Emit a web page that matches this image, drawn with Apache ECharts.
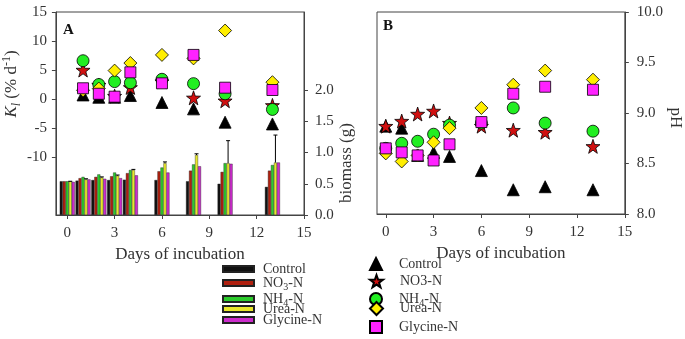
<!DOCTYPE html>
<html><head><meta charset="utf-8">
<script src="https://cdn.jsdelivr.net/npm/echarts@6/dist/echarts.min.js"></script>
<style>html,body{margin:0;padding:0;background:#fff}#c{width:685px;height:339px}</style>
</head><body><div id="c"></div>
<script>
// ---------- data ----------
const categories = ['Control', 'NO3-N', 'NH4-N', 'Urea-N', 'Glycine-N'];
const biomassDays = [0, 1, 2, 3, 4, 6, 8, 10, 13];
const biomassControl = [0.54, 0.55, 0.56, 0.56, 0.565, 0.56, 0.54, 0.50, 0.45];
const biomassNO3 = [0.54, 0.59, 0.61, 0.62, 0.67, 0.70, 0.71, 0.69, 0.71];
const biomassNH4 = [0.54, 0.61, 0.65, 0.68, 0.72, 0.76, 0.81, 0.83, 0.80];
const biomassUrea = [0.54, 0.57, 0.60, 0.63, 0.72, 0.83, 0.96, 0.83, 0.84];
const biomassGlycine = [0.53, 0.57, 0.58, 0.59, 0.635, 0.68, 0.78, 0.82, 0.84];
const biomassUreaErr = [0, 0.01, 0.01, 0.01, 0.01, 0.02, 0.02, 0.36, 0.44];

const klDays = [1, 2, 3, 4, 6, 8, 10, 13];
const klControl = [0.7, 0.3, 0.3, 0.6, -0.6, -1.7, -4.0, -4.3];
const klNO3 = [5.0, 2.4, 0.5, 2.0, 3.0, 0.2, -0.3, -1.1];
const klNH4 = [6.6, 2.5, 3.0, 2.8, 3.4, 2.65, 0.9, -1.8];
const klUrea = [1.5, 1.8, 4.9, 6.2, 7.6, 7.0, 11.8, 2.9];
const klGlycine = [1.85, 0.9, 0.4, 4.6, 2.7, 7.6, 1.95, 1.55];

const phDays = [0, 1, 2, 3, 4, 6, 8, 10, 13];
const phControl = [8.87, 8.85, 8.58, 8.61, 8.57, 8.43, 8.24, 8.27, 8.24];
const phNO3 = [8.87, 8.92, 8.99, 9.02, 8.90, 8.87, 8.83, 8.81, 8.67];
const phNH4 = [8.65, 8.70, 8.72, 8.79, 8.88, 8.90, 9.05, 8.90, 8.82];
const phUrea = [8.60, 8.52, 8.58, 8.71, 8.85, 9.05, 9.28, 9.42, 9.33];
const phGlycine = [8.65, 8.61, 8.58, 8.53, 8.69, 8.91, 9.19, 9.26, 9.23];

const xTicks = [0, 3, 6, 9, 12, 15];
const klTicks = [-10, -5, 0, 5, 10, 15];
const biomassTicks = [0, 0.5, 1.0, 1.5, 2.0];
const phTicks = [8.0, 8.5, 9.0, 9.5, 10.0];

// ---------- styles ----------
const SERIF = '"Liberation Serif","DejaVu Serif",serif';
const AX = '#444';
const TXT = '#333';
const barColors = ['#111111', '#b0200f', '#2ccc2c', '#e8e82a', '#cc2ccc'];
const STAR = 'path://M0,-10 L2.35,-3.24 L9.51,-3.09 L3.8,1.24 L5.88,8.09 L0,4 L-5.88,8.09 L-3.8,1.24 L-9.51,-3.09 L-2.35,-3.24 Z';
const markers = [
  {symbol: 'triangle', size: 12, color: '#000000'},
  {symbol: STAR, size: 14, color: '#d01010'},
  {symbol: 'circle', size: 12, color: '#22ee22'},
  {symbol: 'diamond', size: 13, color: '#ffee00'},
  {symbol: 'rect', size: 11, color: '#ff22ff'}
];
const biomassSets = [biomassControl, biomassNO3, biomassNH4, biomassUrea, biomassGlycine];
const klSets = [klControl, klNO3, klNH4, klUrea, klGlycine];
const phSets = [phControl, phNO3, phNH4, phUrea, phGlycine];

const rich = {
  n: {fontFamily: SERIF, fontSize: 14, color: TXT, lineHeight: 18},
  s: {fontFamily: SERIF, fontSize: 10, color: TXT, lineHeight: 10, verticalAlign: 'bottom'}
};
const barLabel = {'Control': '{n|Control}', 'NO3-N': '{n|NO}{s|3}{n|-N}', 'NH4-N': '{n|NH}{s|4}{n|-N}', 'Urea-N': '{n|Urea-N}', 'Glycine-N': '{n|Glycine-N}'};
const dotLabel = {'Control': '{n|Control}', 'NO3-N': '{n|NO3-N}', 'NH4-N': '{n|NH}{s|4}{n|-N}', 'Urea-N': '{n|Urea-N}', 'Glycine-N': '{n|Glycine-N}'};

function axisCommon(extra) {
  return Object.assign({
    type: 'value', splitLine: {show: false},
    axisLine: {show: true, onZero: false, lineStyle: {color: AX}},
    axisTick: {show: true, length: 4, lineStyle: {color: AX}},
    axisLabel: {fontFamily: SERIF, fontSize: 15, color: TXT, margin: 11},
    nameTextStyle: {fontFamily: SERIF, fontSize: 17, color: TXT}
  }, extra);
}

const series = [];
categories.forEach((c, k) => {
  series.push({
    name: c + ' bar', type: 'bar', xAxisIndex: 0, yAxisIndex: 1,
    barWidth: 3, barGap: '0%',
    itemStyle: {color: barColors[k], borderColor: '#222', borderWidth: 0.4},
    data: biomassDays.map((d, i) => [d, biomassSets[k][i]])
  });
});
series.push({
  name: 'urea err', type: 'custom', xAxisIndex: 0, yAxisIndex: 1, z: 5,
  renderItem: function (params, api) {
    const base = api.coord([api.value(0), api.value(1)]);
    const top = api.coord([api.value(0), api.value(1) + api.value(2)]);
    const cx = base[0] + 3;
    return {type: 'group', children: [
      {type: 'line', shape: {x1: cx, y1: base[1], x2: cx, y2: top[1]}, style: {stroke: '#000', lineWidth: 1}},
      {type: 'line', shape: {x1: cx - 2, y1: top[1], x2: cx + 2, y2: top[1]}, style: {stroke: '#000', lineWidth: 1}}
    ]};
  },
  data: biomassDays.map((d, i) => [d, biomassUrea[i], biomassUreaErr[i]])
});
categories.forEach((c, k) => {
  const m = markers[k];
  const common = {
    name: c, type: 'scatter', symbol: m.symbol, symbolSize: m.size, z: 10 + k,
    itemStyle: {color: m.color, borderColor: '#000', borderWidth: 0.8, opacity: 1}
  };
  series.push(Object.assign({}, common, {xAxisIndex: 0, yAxisIndex: 0, data: klDays.map((d, i) => [d, klSets[k][i]])}));
  series.push(Object.assign({}, common, {xAxisIndex: 1, yAxisIndex: 2, data: phDays.map((d, i) => [d, phSets[k][i]])}));
});

const legends = [];
const barLegendCenters = [271, 285, 301, 311, 322];
const dotLegendCenters = [266, 283, 301, 310, 329];
categories.forEach((c, k) => {
  legends.push({
    data: [c + ' bar'], left: 222, top: barLegendCenters[k] - 9, padding: 0,
    icon: 'rect', itemWidth: 31, itemHeight: 6, selectedMode: false,
    formatter: (n) => barLabel[n.replace(' bar', '')],
    textStyle: {padding: [0, 0, 0, 4], rich: rich}
  });
  legends.push({
    data: [c], left: 369, top: dotLegendCenters[k] - 9, padding: 0,
    itemWidth: markers[k].size > 12 ? 13 : 12, itemHeight: markers[k].size > 12 ? 13 : 12, selectedMode: false,
    formatter: (n) => dotLabel[n],
    textStyle: {padding: [0, 0, 0, 12], rich: rich}
  });
});

const option = {
  animation: false,
  backgroundColor: '#fff',
  title: [
    {text: 'A', left: 63, top: 23, padding: 0, textStyle: {fontFamily: SERIF, fontWeight: 'bold', fontSize: 15, color: '#111'}},
    {text: 'B', left: 383, top: 19, padding: 0, textStyle: {fontFamily: SERIF, fontWeight: 'bold', fontSize: 15, color: '#111'}}
  ],
  legend: legends,
  grid: [
    {left: 54, top: 12, width: 250, height: 203, show: true, borderColor: AX, borderWidth: 1, backgroundColor: 'transparent'},
    {left: 377, top: 12, width: 256, height: 202, show: true, borderColor: AX, borderWidth: 1, backgroundColor: 'transparent'}
  ],
  xAxis: [
    axisCommon({gridIndex: 0, min: -0.72, max: 15, name: 'Days of incubation', nameLocation: 'middle', nameGap: 30,
      axisLabel: {fontFamily: SERIF, fontSize: 15, color: TXT, margin: 11, customValues: xTicks},
      axisTick: {show: true, length: 4, lineStyle: {color: AX}, customValues: xTicks}}),
    axisCommon({gridIndex: 1, min: -0.55, max: 15, name: 'Days of incubation', nameLocation: 'middle', nameGap: 22,
      axisLabel: {fontFamily: SERIF, fontSize: 15, color: TXT, margin: 11, customValues: xTicks},
      axisTick: {show: true, length: 4, lineStyle: {color: AX}, customValues: xTicks}})
  ],
  yAxis: [
    axisCommon({gridIndex: 0, position: 'left', min: -20, max: 15,
      axisLabel: {fontFamily: SERIF, fontSize: 15, color: TXT, margin: 9, customValues: klTicks},
      axisTick: {show: true, length: 4, lineStyle: {color: AX}, customValues: klTicks},
      name: '{k|K}{ks|l}{t| (% d}{sup|-1}{t|)}', nameLocation: 'middle', nameRotate: 90, nameGap: 29,
      nameTextStyle: {padding: [0, 0, 0, 59], rich: {
        k: {fontFamily: SERIF, fontSize: 17, fontStyle: 'italic', color: TXT, lineHeight: 22},
        ks: {fontFamily: SERIF, fontSize: 12, fontStyle: 'italic', color: TXT, lineHeight: 12, verticalAlign: 'bottom'},
        t: {fontFamily: SERIF, fontSize: 17, color: TXT, lineHeight: 22},
        sup: {fontFamily: SERIF, fontSize: 12, color: TXT, lineHeight: 12, verticalAlign: 'top'}
      }}}),
    axisCommon({gridIndex: 0, position: 'right', min: 0, max: 3.25,
      axisLabel: {fontFamily: SERIF, fontSize: 15, color: TXT, margin: 11, customValues: biomassTicks, formatter: (v) => v.toFixed(1)},
      axisTick: {show: true, length: 4, lineStyle: {color: AX}, customValues: biomassTicks},
      name: 'biomass (g)', nameLocation: 'middle', nameRotate: 90, nameGap: 33,
      nameTextStyle: {fontFamily: SERIF, fontSize: 17, color: TXT, padding: [0, 99, 0, 0]}}),
    axisCommon({gridIndex: 1, position: 'right', min: 8, max: 10,
      axisLabel: {fontFamily: SERIF, fontSize: 15, color: TXT, margin: 12, customValues: phTicks, formatter: (v) => v.toFixed(1)},
      axisTick: {show: true, length: 4, lineStyle: {color: AX}, customValues: phTicks},
      name: 'pH', nameLocation: 'middle', nameRotate: -90, nameGap: 40,
      nameTextStyle: {fontFamily: SERIF, fontSize: 17, color: TXT, padding: [0, 0, 0, 10]}})
  ],
  series: series
};
const chart = echarts.init(document.getElementById('c'), null, {renderer: 'canvas'});
chart.setOption(option);
</script></body></html>
